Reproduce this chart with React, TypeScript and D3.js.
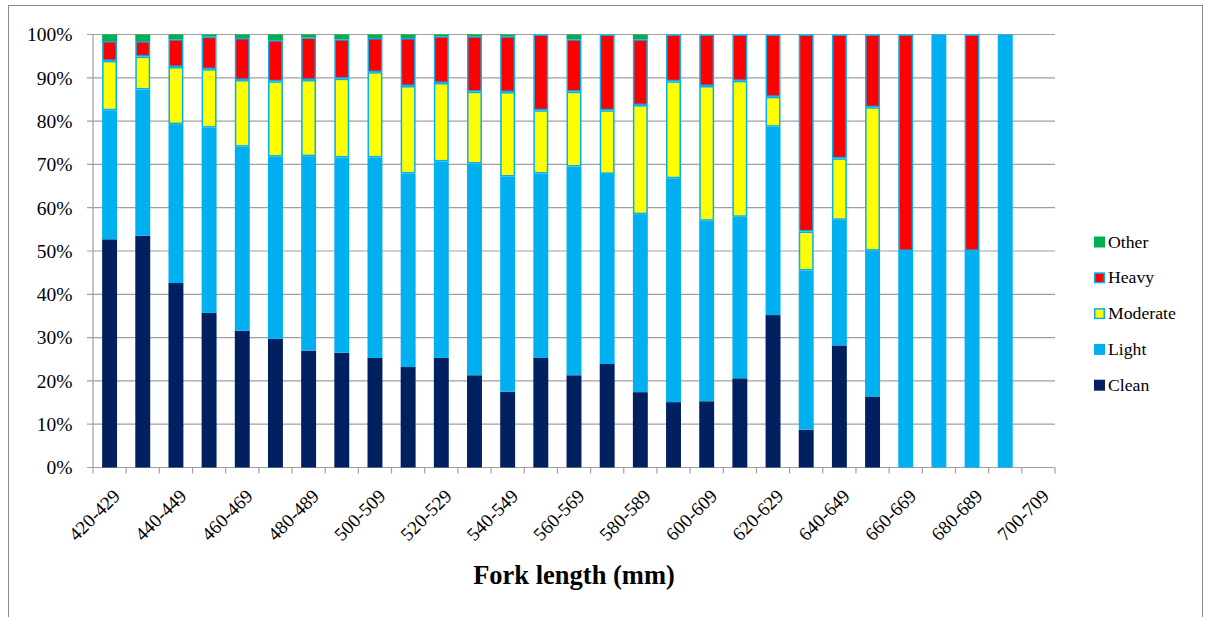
import React from "react";
import * as d3 from "d3";

const categories = [
  "420-429","430-439","440-449","450-459","460-469","470-479","480-489","490-499",
  "500-509","510-519","520-529","530-539","540-549","550-559","560-569","570-579",
  "580-589","590-599","600-609","610-619","620-629","630-639","640-649","650-659",
  "660-669","670-679","680-689","690-699","700-709"
];

const clean = [52.7,53.5,42.6,35.7,31.6,29.7,27.0,26.5,25.3,23.2,25.3,21.3,17.5,25.3,21.3,23.9,17.4,15.1,15.3,20.6,35.2,8.7,28.2,16.4,0,0,0,0,0];
const light = [29.8,33.8,36.7,42.8,42.5,42.1,44.9,45.1,46.3,44.7,45.4,48.9,49.7,42.6,48.2,43.9,41.1,51.7,41.7,37.3,43.5,36.8,29.0,33.7,50,100,50,100,0];
const moderate = [11.4,7.6,13.2,13.5,15.4,17.4,17.6,18.2,19.7,20.2,18.1,16.6,19.5,14.6,17.3,14.7,25.2,22.4,31.1,31.4,6.9,9.0,14.2,33.1,0,0,0,0,0];
const heavy = [4.6,3.6,6.4,7.5,9.7,9.5,9.8,9.1,7.9,11.1,10.8,12.8,12.9,17.5,12.1,17.5,15.2,10.8,11.9,10.7,14.4,45.5,28.6,16.8,50,0,50,0,0];
const other = [1.5,1.5,1.1,0.5,0.8,1.3,0.7,1.1,0.8,0.8,0.4,0.4,0.4,0,1.1,0,1.1,0,0,0,0,0,0,0,0,0,0,0,0];

const seriesKeys = ["Clean", "Light", "Moderate", "Heavy", "Other"];
const seriesValues: Record<string, number[]> = {
  Clean: clean, Light: light, Moderate: moderate, Heavy: heavy, Other: other,
};
const fills: Record<string, string> = {
  Clean: "#002060", Light: "#00B0F0", Moderate: "#FFFF00", Heavy: "#FF0000", Other: "#00B050",
};
const strokes: Record<string, string> = {
  Clean: "none", Light: "none", Moderate: "#00B0F0", Heavy: "#00B0F0", Other: "none",
};
const yTicks = [0, 0.1, 0.2, 0.3, 0.4, 0.5, 0.6, 0.7, 0.8, 0.9, 1];
const legendOrder = ["Other", "Heavy", "Moderate", "Light", "Clean"];

const FONT = "'Liberation Serif', 'Times New Roman', serif";

export default function App() {
  const W = 1209, H = 617;
  const left = 93, right = 1055, top = 34.5, bottom = 467.5;

  const rows = categories.map((c, i) => {
    const r: any = { cat: c };
    seriesKeys.forEach((k) => (r[k] = seriesValues[k][i]));
    return r;
  });
  const stacked = d3.stack<any>().keys(seriesKeys).offset(d3.stackOffsetExpand)(rows);

  const x = d3.scaleBand<string>().domain(categories).range([left, right]).paddingInner(0.55).paddingOuter(0.275);
  const y = d3.scaleLinear().domain([0, 1]).range([bottom, top]);
  const step = x.step();

  return (
    <svg width={W} height={H} style={{ position: "absolute", left: 0, top: 0, background: "#fff" }}>
      <rect x={8.5} y={5.5} width={1194} height={640} fill="#fff" stroke="#8c8c8c" strokeWidth={1} />
      {yTicks.map((t) => (
        <line key={t} x1={left - 6} x2={right} y1={y(t)} y2={y(t)} stroke="#a0a0a0" strokeWidth={1.2} />
      ))}
      <line x1={left} x2={left} y1={top} y2={bottom} stroke="#a0a0a0" strokeWidth={1.2} />
      {yTicks.map((t) => (
        <text key={"yl" + t} x={72.5} y={y(t)} dy="0.35em" textAnchor="end" fontFamily={FONT} fontSize={19.5} fill="#000">
          {d3.format(".0%")(t)}
        </text>
      ))}
      {d3.range(categories.length + 1).map((i) => (
        <line key={"xt" + i} x1={left + i * step} x2={left + i * step} y1={bottom} y2={bottom + 6} stroke="#a0a0a0" strokeWidth={1.2} />
      ))}
      {stacked.map((s) => (
        <g key={s.key}>
          {s.map((d, i) => {
            const h = y(d[0]) - y(d[1]);
            if (!(h > 0)) return null;
            const sw = strokes[s.key] === "none" ? 0 : 1.5;
            return (
              <rect
                key={i}
                x={(x(categories[i]) as number) + sw / 2}
                y={y(d[1]) + sw / 2}
                width={x.bandwidth() - sw}
                height={Math.max(0, h - sw)}
                fill={fills[s.key]}
                stroke={strokes[s.key]}
                strokeWidth={sw}
              />
            );
          })}
        </g>
      ))}
      {categories.map((c, i) =>
        i % 2 === 0 ? (
          <text
            key={"xl" + c}
            transform={`translate(${(x(c) as number) + x.bandwidth() / 2 + 7},${bottom + 25}) rotate(-45)`}
            textAnchor="end"
            dy="0.35em"
            fontFamily={FONT}
            fontSize={19}
            fill="#000"
          >
            {c}
          </text>
        ) : null
      )}
      <text x={574} y={584} textAnchor="middle" fontFamily={FONT} fontSize={26.5} fontWeight="bold" fill="#000">
        Fork length (mm)
      </text>
      {legendOrder.map((k, i) => {
        const ly = 241.5 + i * 35.8;
        const hasStroke = strokes[k] !== "none";
        return (
          <g key={"lg" + k}>
            <rect
              x={hasStroke ? 1094.75 : 1094}
              y={ly - 5 + (hasStroke ? 0.75 : 0)}
              width={hasStroke ? 9.5 : 11}
              height={hasStroke ? 9.5 : 11}
              fill={fills[k]}
              stroke={strokes[k]}
              strokeWidth={hasStroke ? 1.5 : 0}
            />
            <text x={1108} y={ly} dy="0.35em" fontFamily={FONT} fontSize={17.7} fill="#000">
              {k}
            </text>
          </g>
        );
      })}
    </svg>
  );
}
